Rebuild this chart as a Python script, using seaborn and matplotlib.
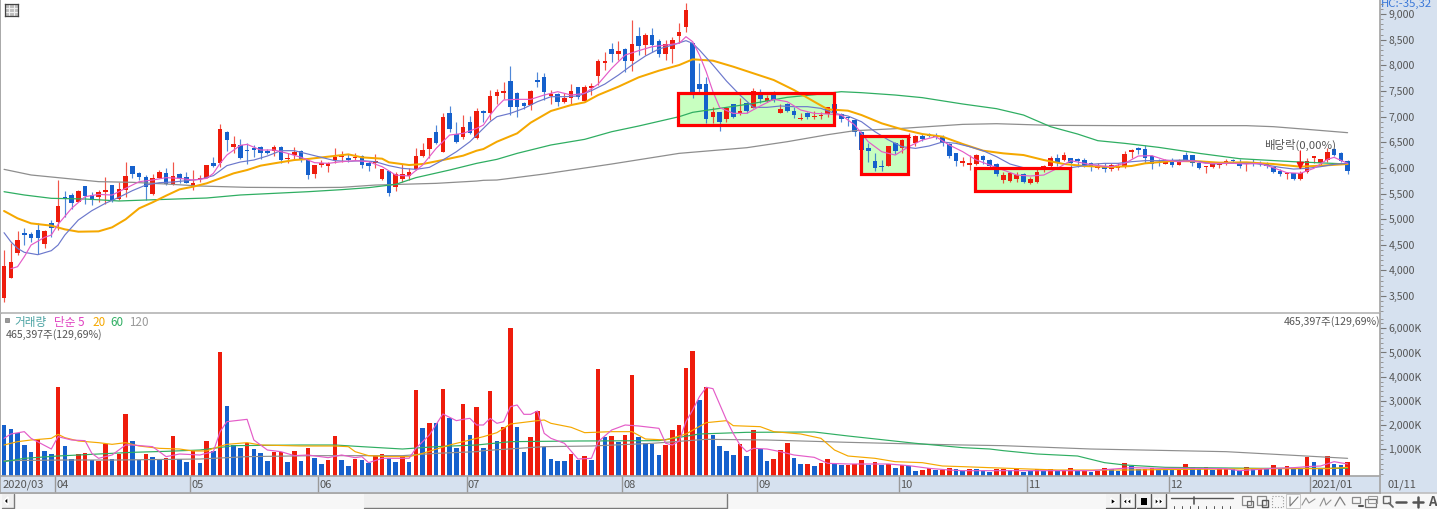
import numpy as np
import pandas as pd
import matplotlib.pyplot as plt
from matplotlib.patches import Rectangle, Polygon
from matplotlib.ticker import FuncFormatter, MultipleLocator
import seaborn as sns

W, H = 1437, 509

# daily candles, 2020/03 - 2021/01
opens = [3455,3858,4333,4723,4703,4788,4515,4918,4938,5432,
         5464,5328,5646,5464,5438,5535,5659,5393,5568,6036,
         5893,5821,5490,5809,5906,5685,5886,5815,5633,5782,
         5809,6101,6101,6693,6407,6446,6348,6394,6413,6329,
         6329,6407,6166,6250,6329,6153,5880,6062,6036,6153,
         6205,6185,6185,6237,6095,6101,5776,5939,5633,5789,
         5848,5977,6225,6361,6706,6316,7063,6667,6601,6901,
         6575,7108,7063,7407,7460,7700,7453,7271,7219,7713,
         7765,7407,7433,7284,7362,7570,7310,7564,7798,8051,
         8318,8220,8318,8084,8571,8396,8590,8480,8220,8324,
         8578,8740,8441,7629,7629,6998,7095,6946,7239,7063,
         7271,7174,7427,7304,7485,7076,7252,7108,6946,7069,
         6985,7005,7043,7239,7050,6978,6933,6706,6380,6134,
         6036,6043,6478,6380,6575,6478,6621,6653,6640,6608,
         6458,6283,6088,6049,6075,6237,6153,6081,5763,5750,
         5776,5873,5705,5724,5984,6043,6185,6153,6185,6166,
         6147,6101,5990,6043,5977,5990,6023,6309,6387,6361,
         6231,6120,6081,6147,6062,6244,6244,6101,6010,6010,
         6049,6108,6160,6114,6081,6120,6088,6088,6010,5945,
         5873,5893,5776,5919,6198,6088,6153,6367,6296,6140]
closes = [4086,4170,4593,4690,4638,4638,4775,4833,5256,5405,
          5315,5555,5451,5373,5523,5568,5347,5588,5841,5873,
          5828,5633,5802,5913,5678,5841,5809,5711,5698,5795,
          6049,6036,6751,6543,6458,6192,6322,6342,6296,6296,
          6400,6147,6192,6309,6147,5861,6049,6088,6095,6205,
          6231,6147,6218,6049,6043,6114,5977,5503,5873,5873,
          5925,6231,6348,6575,6491,6992,6751,6498,6797,6673,
          7115,7063,7401,7485,7505,7193,7193,7206,7505,7680,
          7479,7427,7277,7362,7505,7388,7570,7596,8077,8090,
          8227,8278,8084,8421,8376,8590,8396,8220,8408,8493,
          8643,9078,7420,7538,6946,7095,6888,7174,6998,7115,
          7109,7499,7343,7356,7316,7148,7115,7030,6965,6985,
          7011,7017,7180,7063,6946,6965,6693,6348,6322,5990,
          6010,6426,6335,6543,6601,6621,6569,6627,6601,6491,
          6231,6127,6134,6088,6244,6153,6043,5873,5861,5906,
          5861,5717,5783,5913,6036,6185,6088,6244,6088,6140,
          6043,6023,6043,5977,6056,6043,6263,6348,6341,6198,
          6081,6088,6140,6056,6127,6160,6088,5990,6036,6075,
          6081,6134,6134,6043,6094,6069,6069,6043,5919,5873,
          5893,5776,5893,6127,6218,6166,6315,6250,6134,5939]
highs = [4398,4528,4775,4820,4755,4918,4788,4983,5763,5555,
         5503,5568,5646,5535,5568,5815,5659,5718,6107,6036,
         5925,5860,5880,5958,5998,6107,5893,5925,5958,5860,
         6049,6205,6855,6718,6621,6556,6478,6439,6426,6361,
         6439,6426,6283,6407,6342,6166,6056,6153,6108,6381,
         6335,6263,6296,6250,6140,6263,5977,5939,5925,6069,
         5990,6381,6478,6589,6829,7063,7206,6901,7024,7011,
         7160,7128,7518,7531,7680,7986,7485,7290,7518,7875,
         7856,7518,7453,7453,7635,7583,7615,7648,8116,8253,
         8428,8480,8331,8883,8740,8623,8720,8506,8493,8545,
         8831,9208,8441,8051,7765,7180,7095,7193,7239,7356,
         7290,7550,7531,7420,7498,7238,7271,7193,7076,7082,
         7108,7095,7193,7245,7076,6998,6946,6719,6478,6283,
         6153,6433,6511,6556,6673,6634,6660,6686,6686,6640,
         6478,6283,6205,6250,6263,6250,6166,6094,5925,5919,
         5925,5893,5828,6023,6056,6237,6263,6303,6198,6185,
         6185,6114,6101,6088,6088,6088,6329,6361,6400,6446,
         6250,6166,6166,6185,6166,6315,6257,6114,6036,6101,
         6101,6166,6179,6166,6108,6166,6127,6108,6023,5977,
         5913,5906,5939,6185,6231,6179,6381,6381,6309,6153]
lows = [3390,3845,4300,4495,4548,4320,4430,4645,4788,5048,
        5191,5328,5288,5275,5340,5295,5334,5373,5438,5808,
        5763,5373,5470,5795,5665,5665,5698,5698,5568,5718,
        5795,6023,6023,6335,6283,6179,6075,6218,6166,6270,
        6231,6101,6088,6166,6108,5776,5808,6023,5925,6088,
        6120,6108,6153,5990,5945,6003,5763,5458,5555,5730,
        5763,5958,6218,6185,6465,6316,6699,6478,6562,6660,
        6556,6901,6933,7245,7343,7030,6998,7141,7128,7570,
        7323,7245,7206,7271,7232,7349,7290,7420,7615,7908,
        8058,8103,7869,7895,8201,8201,8266,8168,8103,8038,
        8441,8649,7355,7453,6868,6868,6719,6888,6979,7030,
        7063,7160,7271,7290,7290,7063,7095,6965,6933,6946,
        6946,6946,6998,7030,6901,6816,6628,6335,6120,5945,
        5939,6043,6270,6296,6543,6426,6530,6595,6556,6433,
        6198,6036,6043,5958,6056,6075,6023,5848,5711,5731,
        5731,5705,5685,5711,5925,6023,6036,6134,5958,6023,
        6023,5945,5971,5913,5945,5958,6003,6192,6270,6088,
        5971,6036,6069,6023,6056,6140,6043,5971,5906,5997,
        6003,6056,6088,6003,5932,6043,6036,6003,5906,5841,
        5783,5763,5763,5893,6088,6036,6120,6237,6114,5880]

# volume in thousands of shares
volume = [2005,1840,1688,1179,876,1413,945,793,3575,1137,
          600,793,834,545,532,1220,600,807,2446,1358,
          545,821,683,600,655,1551,587,490,917,421,
          1358,945,5034,2790,1179,1069,1248,1013,834,532,
          890,890,490,931,532,1055,642,380,559,1551,
          559,311,600,559,421,738,793,628,463,738,
          490,3451,1881,2074,2074,3492,2308,1055,2859,1592,
          2748,1069,3396,1358,1922,6012,1922,903,1509,2597,
          1110,600,532,532,793,573,724,559,4318,1523,
          1551,1289,1578,4070,1509,1261,1206,766,1179,1798,
          2005,4360,5048,3051,3589,1578,1137,917,766,1206,
          724,1812,1027,532,600,972,1248,655,394,380,
          311,435,600,394,339,339,394,559,339,490,
          353,394,242,366,325,118,160,215,146,146,
          229,174,118,174,174,118,63,174,187,146,
          174,63,105,174,91,174,118,132,215,105,
          118,63,118,215,174,118,421,325,187,174,
          229,160,146,146,160,380,270,201,270,146,
          174,174,174,118,256,174,174,174,339,174,
          311,174,174,683,463,215,724,380,353,465]
volume_dir = ("bbbbbrbbrb" "brrbrrbrrb" "brbbrrbbrb" "rbrbbbrbbb" "rrbrbrbbrr"
              "bbrbbrrbbr" "brbrbrbbrb" "rbrbrrbbrr" "bbbbrbrbrb" "rbrrbbbbrr"
              "rrrbrbbbbr" "brbbrrrbbr" "brrbbrrrbr" "brbrbbrrbr" "rbbrbbbrrb"
              "rbbrbrbrrb" "rbrrbbrbbr" "rbbbrrbbrb" "rrbbrbrbrb" "rbbrbbrbbr")

# price moving averages
ma5_idx = [1,2,3,4,6,7,8,10,12,14,16,18,20,22,24,26,28,30,31,32,33,35,36,38,40,42,44,46,48,50,52,54,56,58,60,62,64,66,68,70,
           71,72,73,74,76,78,80,82,84,86,88,90,92,94,96,98,100,101,102,103,104,105,106,108,110,112,114,116,118,120,122,124,126,128,130,132,134,136,138,140,
           142,144,146,148,150,152,154,156,158,160,162,164,166,168,170,172,174,176,178,180,182,184,186,188,190,192,194,196,197,199]
ma5_val = [4034,4073,4268,4495,4645,4690,4898,5210,5438,5483,5470,5600,5730,5763,5809,5795,5763,5795,5893,6088,6250,6439,6458,6348,6348,6283,6205,6101,6088,6120,6140,6120,6023,5860,5841,6055,6380,6640,6673,6770,
           6835,7030,7193,7323,7336,7336,7420,7485,7420,7453,7635,7940,8200,8285,8363,8395,8428,8558,8460,8200,7875,7485,7174,7063,7063,7206,7336,7290,7128,7063,7050,7030,6835,6510,6315,6250,6413,6543,6608,6446,
           6315,6153,6055,5958,5860,5841,5860,5990,6140,6088,6043,6023,6088,6231,6238,6153,6120,6140,6088,6088,6088,6075,6088,6003,5906,5893,5990,6166,6205,6088]
ma10_idx = [0,1,2,3,5,7,8,9,11,13,15,17,19,21,23,25,27,29,31,33,35,37,39,41,43,45,47,49,51,53,55,57,59,61,63,65,67,69,
            71,72,73,75,77,79,81,83,85,87,89,91,93,95,97,99,101,102,103,105,107,109,111,113,115,117,119,121,123,125,127,129,131,133,135,137,139,141,
            143,145,147,149,151,153,155,157,159,161,163,165,167,169,171,173,175,177,179,181,183,185,187,189,191,193,195,197,199]
ma10_val = [4736,4560,4430,4353,4307,4385,4495,4690,4983,5165,5308,5425,5555,5665,5711,5724,5750,5776,5848,6043,6114,6153,6231,6335,6335,6270,6205,6140,6127,6140,6120,6043,5990,5971,6010,6153,6315,6510,
            6770,6900,6998,7063,7160,7290,7388,7388,7401,7505,7635,7810,8005,8181,8318,8395,8480,8428,8298,8005,7693,7420,7180,7180,7206,7193,7193,7160,7063,7011,6900,6705,6543,6413,6380,6426,6504,6478,
            6413,6335,6218,6075,6003,5990,5971,5984,6023,6069,6088,6088,6120,6140,6140,6147,6153,6120,6075,6088,6088,6088,6055,6010,5977,5990,6023,6069,6088]
ma20_idx = [0,2,4,7,9,11,14,16,18,20,22,24,26,28,30,32,34,36,38,40,43,45,48,51,53,56,57,60,62,65,68,70,
            71,73,76,78,81,84,86,88,91,94,97,100,102,105,108,111,114,117,120,122,125,127,130,133,136,139,
            142,145,148,151,154,157,160,164,167,169,173,177,180,184,188,192,195,199]
ma20_val = [5159,5016,4918,4873,4801,4755,4762,4840,4996,5210,5328,5458,5581,5633,5698,5795,5893,5958,6043,6088,6153,6173,6218,6263,6205,6179,6108,6055,6075,6153,6238,6335,
            6367,6510,6673,6881,7109,7225,7278,7420,7583,7765,7895,8005,8116,8090,7973,7843,7713,7518,7290,7141,7115,7030,6868,6751,6660,6608,
            6465,6335,6283,6250,6153,6075,6036,6017,6036,6088,6134,6127,6101,6108,6075,6023,6043,6075]
ma60_idx = [0,3,7,12,17,21,30,35,42,45,50,54,58,61,66,70,71,73,76,81,86,90,94,100,102,106,111,116,120,124,127,132,136,142,147,151,155,159,162,166,171,177,183,191,199]
ma60_val = [5535,5471,5406,5393,5354,5373,5412,5471,5516,5535,5575,5614,5678,5809,5958,6088,6114,6166,6283,6446,6556,6705,6816,6998,7083,7160,7258,7375,7427,7485,7466,7420,7369,7245,7154,7030,6803,6660,6530,6478,6400,6283,6179,6120,6075]
ma120_idx = [0,4,9,14,19,24,29,36,44,50,55,64,70,71,73,80,90,100,110,116,122,126,133,142,147,155,166,184,188,193,199]
ma120_val = [5971,5861,5796,5731,5718,5685,5646,5620,5614,5620,5665,5698,5743,5757,5763,5880,6075,6283,6393,6510,6647,6725,6770,6848,6861,6829,6823,6823,6803,6751,6686]

# volume moving averages, thousands of shares
vol5_idx = [0,1,3,4,7,8,10,12,13,14,16,18,19,22,24,26,29,31,32,33,36,37,38,39,41,43,45,48,50,52,53,54,56,60,61,63,65,67,68,69,70,
            71,72,73,74,75,76,77,78,79,80,81,83,85,87,88,90,92,94,97,98,99,100,101,102,103,104,105,107,108,109,110,111,113,115,117,120,122,125,128,131,134,137,140,142,
            145,151,161,167,171,176,181,183,188,191,193,195,197,199]
vol5_val = [1454,1633,1730,1454,1013,1523,1385,1358,834,628,766,1179,1179,1110,697,807,766,903,1730,2143,2239,1385,1179,972,903,738,766,655,766,655,697,449,628,628,1041,1592,2459,2184,2239,2280,2005,
            2005,2280,2074,2143,2762,2831,2446,2446,2583,1661,1454,1248,600,628,1316,1798,2005,1964,1867,1248,1179,1344,2143,2625,3175,3561,3506,2211,1661,1179,903,1041,1013,903,766,669,421,394,394,394,325,215,146,118,
            118,118,118,242,215,215,201,118,215,242,284,311,490,394]
vol20_idx = [0,2,4,7,8,9,11,14,16,18,20,23,26,28,30,31,33,36,38,44,49,51,52,54,57,60,62,66,68,70,
             71,73,75,79,80,81,84,86,90,93,95,98,101,104,107,108,112,114,118,121,123,125,129,132,136,139,142,146,156,166,176,186,196,199]
vol20_val = [1179,1316,1385,1454,1619,1482,1344,1275,1206,1275,1137,1041,1013,931,931,1041,1206,1275,1179,1137,1137,1110,903,738,697,697,834,1179,1316,1454,
             1523,1688,2046,2184,2211,2074,1909,1688,1730,1730,1427,1385,1633,2101,2184,1977,1936,1730,1633,1454,972,724,628,490,449,311,284,242,146,146,174,201,201,256]
vol60_idx = [0,3,8,13,19,24,29,31,34,44,49,53,59,64,70,75,85,97,103,110,120,125,135,142,146,148,153,159,163,166,172,186,199]
vol60_val = [490,628,724,793,876,917,972,1041,1151,1179,1179,1110,1013,1110,1179,1316,1344,1358,1633,1702,1716,1551,1248,1069,1013,945,807,724,449,353,256,215,215]
vol120_idx = [0,9,17,29,36,46,59,64,70,71,80,87,96,104,113,125,135,142,148,161,181,191,199]
vol120_val = [532,559,559,600,697,738,738,834,903,945,1110,1137,1248,1413,1385,1289,1220,1179,1151,1013,903,752,628]

# month axis
month_first_bar = [8, 28, 47, 69, 92, 112, 133, 152, 173, 194]
month_labels = ["04", "05", "06", "07", "08", "09", "10", "11", "12", "2021/01"]

# green boxes on the price panel: first bar, last bar, low, high
box_from = [99.87, 126.9, 143.85]
box_to = [122.96, 133.9, 157.9]
box_low = [6835, 5886, 5554]
box_high = [7454, 6621, 5991]

RED = "#EE1C0C"
BLUE = "#1560CC"
PINK = "#E45CC8"
NAVY = "#6C78CC"
ORANGE = "#F5A800"
GREEN = "#2FAE62"
GREY = "#8E8E8E"
PANEL = "#D6E1EF"
EDGE = "#A6A6A6"
TXT = "#555555"

sns.set_theme(style="white")
plt.rcParams['font.family'] = ['Noto Sans CJK KR', 'DejaVu Sans']
plt.rcParams['axes.unicode_minus'] = False

fig = plt.figure(figsize=(W / 100, H / 100), dpi=100, facecolor="white")


def px_axes(x0, y0, x1, y1, **kw):
    return fig.add_axes([x0 / W, 1 - y1 / H, (x1 - x0) / W, (y1 - y0) / H], **kw)


# window furniture, in pixel coordinates
bg = px_axes(0, 0, W, H, zorder=0)
bg.set_xlim(0, W)
bg.set_ylim(H, 0)
bg.axis("off")
bg.add_patch(Rectangle((1380, 0), 57, 493, fc=PANEL, ec="none"))
bg.add_patch(Rectangle((0, 493), W, 16, fc="#F7F7F7", ec="none"))
bg.add_patch(Rectangle((364, 494), 363, 14, fc="#EFEFEF", ec="none"))
bg.plot([364, 727, 727], [508, 508, 494], color="#7A7A7A", lw=1)
bg.plot([0, W], [493, 493], color="#BEBEBE", lw=1.2)
bg.add_patch(Rectangle((2, 494), 12, 14, fc="#EFEFEF", ec="none"))
bg.plot([2, 14, 14], [508, 508, 494], color="#7A7A7A", lw=1)
bg.add_patch(Polygon([[4, 501], [8, 497], [8, 505]], fc="black"))
bg.add_patch(Rectangle((30, 0), 18, 1.6, fc="#D4D4D4", ec="none"))
bg.plot([0.5, 0.5], [0, 493], color="#A8A8A8", lw=1.4)

for bx in [1106, 1121, 1137, 1152]:
    bg.add_patch(Rectangle((bx, 494), 14, 14, fc="#F2F2F2", ec="none"))
    bg.plot([bx, bx + 14, bx + 14], [508, 508, 494], color="#555555", lw=1)
bg.add_patch(Polygon([[1111, 498], [1116, 501.5], [1111, 505]], fc="black"))
bg.add_patch(Polygon([[1123, 501.5], [1127, 498], [1127, 505]], fc="black"))
bg.add_patch(Polygon([[1127, 501.5], [1131, 498], [1131, 505]], fc="black"))
bg.add_patch(Rectangle((1141, 498), 6, 7, fc="black", ec="none"))
bg.add_patch(Polygon([[1155, 498], [1159, 501.5], [1155, 505]], fc="black"))
bg.add_patch(Polygon([[1159, 498], [1163, 501.5], [1159, 505]], fc="black"))
bg.plot([1171, 1233], [498, 498], color="#555555", lw=1)
bg.plot([1194, 1194], [497, 504], color="#555555", lw=1.2)
for tx in range(1174, 1234, 8):
    bg.plot([tx, tx], [506, 509], color="#555555", lw=0.7)

# toolbar icons
bg.add_patch(Rectangle((1242, 496), 9, 9, fc="none", ec="#8A8A8A", lw=0.9))
bg.add_patch(Rectangle((1247, 501), 6, 6, fc="none", ec="#6A6A6A", lw=0.9))
bg.add_patch(Rectangle((1257, 496), 9, 9, fc="none", ec="#8A8A8A", lw=0.9))
bg.add_patch(Rectangle((1262, 500), 6, 7, fc="none", ec="#555555", lw=1))
bg.add_patch(Rectangle((1272, 496), 11, 11, fc="none", ec="#9A9A9A", lw=0.8, ls=":"))
bg.add_patch(Rectangle((1286, 494), 14, 14, fc="#FAFAFA", ec="#C8C8C8", lw=0.7))
bg.plot([1290, 1290, 1298], [497, 506, 497], color="#777777", lw=0.8)
bg.plot([1302, 1306, 1309, 1315], [505, 498, 503, 499], color="#909090", lw=0.8)
bg.plot([1320, 1324, 1326, 1331], [506, 498, 505, 500], color="#909090", lw=0.8)
bg.plot([1335, 1340, 1345], [506, 497, 505], color="#808080", lw=0.9)
bg.add_patch(Rectangle((1352, 497), 8, 6, fc="none", ec="#8A8A8A", lw=0.9))
bg.plot([1359, 1363], [506, 506], color="#555555", lw=1.5)
bg.add_patch(Rectangle((1365, 499), 11, 8, fc="none", ec="#777777", lw=0.9))
bg.add_patch(Rectangle((1368, 496), 9, 7, fc="none", ec="#9A9A9A", lw=0.8))

bg.add_patch(Rectangle((1383, 496), 7, 7, fc="none", ec="#666666", lw=1))
bg.plot([1389, 1393], [503, 507], color="#666666", lw=1.3)
bg.plot([1396, 1406], [501.5, 501.5], color="#555555", lw=1.8)
bg.plot([1413, 1423], [501.5, 501.5], color="#555555", lw=1.8)
bg.plot([1418, 1418], [496.5, 506.5], color="#555555", lw=1.8)
bg.text(1432.5, 501.5, "A", ha="center", va="center", fontsize=9.5, color="#555555", fontweight="bold")

bg.text(1381, 3.5, "HC:-35,32", ha="left", va="center", fontsize=8.2, color="#3A78D8")
bg.text(1388, 484.5, "01/11", ha="left", va="center", fontsize=8, color=TXT)

n = len(opens)
bars = np.arange(n)
x_left, x_right = -0.6, 203.8

# price panel
ax = px_axes(1, 0, 1380, 313, zorder=2, facecolor="white")
for b0, b1, lo, hi in zip(box_from, box_to, box_low, box_high):
    ax.add_patch(Rectangle((b0, lo), b1 - b0, hi - lo, fc="#C8FFC0", ec="none", zorder=1))

df = pd.DataFrame({"bar": bars, "open": opens, "close": closes, "high": highs, "low": lows})
df["body_lo"] = df[["open", "close"]].min(axis=1)
df["body_hi"] = df[["open", "close"]].max(axis=1)
df["color"] = np.where(df["close"] >= df["open"], RED, BLUE)

ax.vlines(df["bar"], df["low"], df["high"], colors=df["color"], lw=0.85, alpha=0.75, zorder=2)
ax.bar(df["bar"], (df["body_hi"] - df["body_lo"]).clip(lower=25), bottom=df["body_lo"],
       width=0.68, color=df["color"], linewidth=0, zorder=3)

for idx, val, col, lw in [(ma120_idx, ma120_val, GREY, 0.9),
                          (ma60_idx, ma60_val, GREEN, 0.9),
                          (ma20_idx, ma20_val, ORANGE, 1.45),
                          (ma10_idx, ma10_val, NAVY, 0.85),
                          (ma5_idx, ma5_val, PINK, 0.85)]:
    sns.lineplot(x=idx, y=val, ax=ax, color=col, lw=lw, estimator=None, zorder=4)

for b0, b1, lo, hi in zip(box_from, box_to, box_low, box_high):
    ax.add_patch(Rectangle((b0, lo), b1 - b0, hi - lo, fc="none", ec="#FF0000", lw=2.3, zorder=5))

ax.annotate("", xy=(192, 5960), xytext=(192, 6330), zorder=6,
            arrowprops=dict(arrowstyle="-|>", color="#F01010", lw=0.9, mutation_scale=11, shrinkA=0, shrinkB=0))
ax.text(192, 6455, "배당락(0,00%)", ha="center", va="center", fontsize=8.2, color=TXT, zorder=6)

x_px = 1379 / (x_right - x_left)
ax.set_xlim(x_left + 1 / x_px, x_right)
ax.set_ylim(3170, 9273)
ax.set_xticks([])
ax.set_xlabel("")
ax.set_ylabel("")
ax.yaxis.tick_right()
ax.yaxis.set_major_locator(MultipleLocator(500))
ax.yaxis.set_minor_locator(MultipleLocator(100))
ax.yaxis.set_major_formatter(FuncFormatter(lambda v, _: f"{int(v):,}"))
ax.tick_params(axis="y", which="major", length=4, width=0.8, color="#777777", labelsize=7.6,
               labelcolor=TXT, pad=2, right=True, left=False)
ax.tick_params(axis="y", which="minor", length=2, width=0.6, color="#888888", right=True, left=False)
for s in ["top", "left"]:
    ax.spines[s].set_visible(False)
ax.spines["right"].set_color(EDGE)
ax.spines["bottom"].set_color("#B4B4B4")
ax.spines["bottom"].set_linewidth(1.2)

# volume panel
vx = px_axes(1, 314, 1380, 476, zorder=2, facecolor="white")
floor = -102
vdf = pd.DataFrame({"bar": bars, "height": np.array(volume) - floor, "dir": list(volume_dir)})
sns.barplot(data=vdf, x="bar", y="height", hue="dir", palette={"r": RED, "b": BLUE},
            dodge=False, width=0.68, saturation=1, native_scale=True, legend=False,
            bottom=floor, linewidth=0, ax=vx, zorder=2)

for idx, val, col in [(vol120_idx, vol120_val, GREY),
                      (vol60_idx, vol60_val, GREEN),
                      (vol20_idx, vol20_val, ORANGE),
                      (vol5_idx, vol5_val, PINK)]:
    sns.lineplot(x=idx, y=val, ax=vx, color=col, lw=0.85, estimator=None, zorder=4)

vx.set_xlim(x_left + 1 / x_px, x_right)
vx.set_ylim(floor, 6590)
vx.set_xticks([])
vx.set_xlabel("")
vx.set_ylabel("")
vx.yaxis.tick_right()
vx.set_yticks(range(1000, 7000, 1000))
vx.yaxis.set_minor_locator(MultipleLocator(200))
vx.yaxis.set_major_formatter(FuncFormatter(lambda v, _: f"{int(v):,}K"))
vx.tick_params(axis="y", which="major", length=4, width=0.8, color="#777777", labelsize=7.6,
               labelcolor=TXT, pad=2, right=True, left=False)
vx.tick_params(axis="y", which="minor", length=2, width=0.6, color="#888888", right=True, left=False)
for s in ["top", "left", "bottom"]:
    vx.spines[s].set_visible(False)
vx.spines["right"].set_color(EDGE)

vx.text(1, 0.985, "465,397주(129,69%)", transform=vx.transAxes, ha="right", va="top",
        fontsize=7.6, color=TXT, zorder=6)
vx.text(0.0033, 0.905, "465,397주(129,69%)", transform=vx.transAxes, ha="left", va="top",
        fontsize=7.6, color=TXT, zorder=6)
legend_bits = [(0.0095, "거래량", "#4BA3A3"), (0.0385, "단순 5", "#E040C0"), (0.0660, "20", "#F5A800"),
               (0.0790, "60", "#2FAE62"), (0.0925, "120", "#9A9A9A")]
for lx, label, col in legend_bits:
    vx.text(lx, 0.99, label, transform=vx.transAxes, ha="left", va="top", fontsize=8.4, color=col, zorder=6)
vx.add_patch(Rectangle((0.003, 0.95), 0.0029, 0.024, transform=vx.transAxes, fc="#999999", ec="#666666", lw=0.4, zorder=6))

# month band
mx = px_axes(0, 476, 1380, 493, zorder=2, facecolor=PANEL)
mx.set_xlim(x_left, x_right)
mx.set_ylim(0, 1)
mx.set_xticks([])
mx.set_yticks([])
for s in mx.spines.values():
    s.set_color(EDGE)
mx.text(x_left + 0.4, 0.48, "2020/03", ha="left", va="center", fontsize=8, color=TXT)
for first, label in zip(month_first_bar, month_labels):
    mx.axvline(first - 0.5, color="#999999", lw=1)
    mx.text(first - 0.3, 0.48, label, ha="left", va="center", fontsize=8, color=TXT)

# chart menu icon, top left
icon = ax.inset_axes([4 / 1379, 1 - 16 / 313, 13 / 1379, 12 / 313])
icon.set_facecolor("#BDBDBD")
icon.set_xticks([0.33, 0.66])
icon.set_yticks([0.33, 0.66])
icon.set_xlim(0, 1)
icon.set_ylim(0, 1)
icon.tick_params(length=0, labelbottom=False, labelleft=False)
icon.grid(True, color="#F0F0F0", lw=0.8)
for s in icon.spines.values():
    s.set_color("#444444")
    s.set_linewidth(0.9)

fig.savefig("out.png", dpi=100)
plt.close(fig)
